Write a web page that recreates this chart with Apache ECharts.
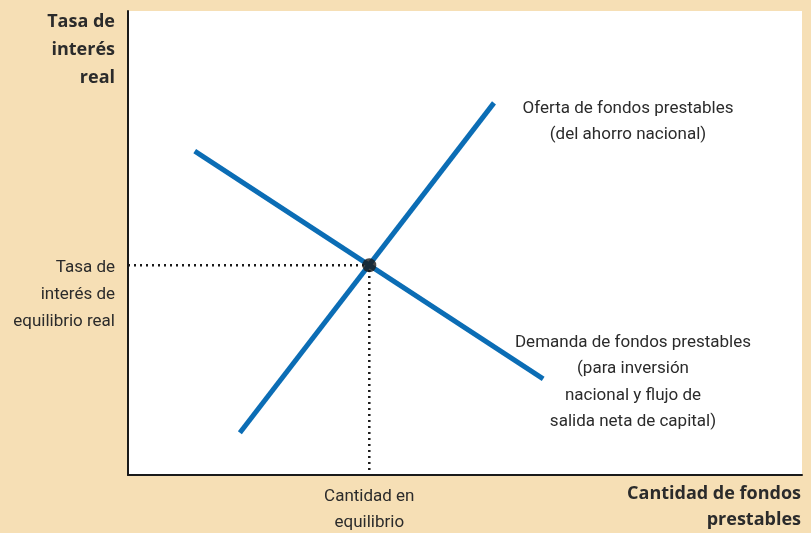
<!DOCTYPE html>
<html>
<head>
<meta charset="utf-8">
<script src="https://cdn.jsdelivr.net/npm/echarts@6/dist/echarts.min.js"></script>
<style>
  html, body { margin: 0; padding: 0; background: #f6dfb5; }
  #chart { width: 811px; height: 533px; }
</style>
</head>
<body>
<div id="chart"></div>
<script>
// curves (x: quantity 0-100, y: rate 0-100)
var supplyPts = [[16.6, 9.1], [54.3, 80.2]];
var demandPts = [[9.9, 69.8], [61.6, 20.7]];
var equilibrium = [35.8, 45.2];

var yTickLabel = "Tasa de\ninterés de\nequilibrio real";
var xTickLabel = "Cantidad en\nequilibrio";
var yName = ["Tasa de", "interés", "real"];
var xName = ["Cantidad de fondos", "prestables"];
var supplyLabel = ["Oferta de fondos prestables", "(del ahorro nacional)"];
var demandLabel = ["Demanda de fondos prestables", "(para inversión", "nacional y flujo de", "salida neta de capital)"];

var textFont = "Roboto, 'Open Sans', sans-serif";
var boldFont = "'Open Sans', sans-serif";
var ink = "#2b2b2b";
var blue = "#0b6db5";

var myChart = echarts.init(document.getElementById("chart"));
myChart.setOption({
	backgroundColor: "#f6dfb5",
	animation: false,
	grid: {
		left: 128, top: 11, right: 9, bottom: 58,
		outerBoundsMode: "none", containLabel: false,
		show: true, backgroundColor: "#ffffff", borderWidth: 0
	},
	xAxis: {
		type: "value", min: 0, max: 100,
		splitLine: { show: false },
		axisLine: { show: true, lineStyle: { color: "#1a1a1a", width: 2 } },
		axisTick: { show: false },
		axisLabel: {
			customValues: [equilibrium[0]],
			formatter: function () { return xTickLabel; },
			color: ink, fontFamily: textFont, fontSize: 17, lineHeight: 26, margin: 9
		}
	},
	yAxis: {
		type: "value", min: 0, max: 100,
		splitLine: { show: false },
		axisLine: { show: true, lineStyle: { color: "#1a1a1a", width: 2 } },
		axisTick: { show: false },
		axisLabel: {
			customValues: [equilibrium[1]],
			formatter: function () { return yTickLabel; },
			color: ink, fontFamily: textFont, fontSize: 17, lineHeight: 27, margin: 13,
			align: "right", verticalAlign: "top", padding: [-11, 0, 0, 0]
		}
	},
	graphic: [
		{ type: "text", x: 115, y: 8, style: { text: yName.join("\n"), fill: ink, font: "bold 18px " + boldFont, lineHeight: 28, align: "right", verticalAlign: "top" } },
		{ type: "text", x: 801, y: 481, style: { text: xName.join("\n"), fill: ink, font: "bold 18px " + boldFont, lineHeight: 26, align: "right", verticalAlign: "top" } },
		{ type: "text", x: 628, y: 96, style: { text: supplyLabel.join("\n"), fill: ink, font: "17px " + textFont, lineHeight: 26, align: "center", verticalAlign: "top" } },
		{ type: "text", x: 633, y: 329, style: { text: demandLabel.join("\n"), fill: ink, font: "17px " + textFont, lineHeight: 26.5, align: "center", verticalAlign: "top" } }
	],
	series: [
		{
			name: "guias", type: "line", symbol: "none", silent: true,
			data: [[0, equilibrium[1]], equilibrium, [equilibrium[0], 0]],
			lineStyle: { color: "#1a1a1a", width: 2.5, type: [2, 4] }
		},
		{
			name: "Oferta", type: "line", symbol: "none", data: supplyPts,
			lineStyle: { color: blue, width: 5 }
		},
		{
			name: "Demanda", type: "line", symbol: "none", data: demandPts,
			lineStyle: { color: blue, width: 5 }
		},
		{
			name: "Equilibrio", type: "scatter", data: [equilibrium], symbolSize: 14,
			itemStyle: { color: "#1a1a1a" }, z: 5
		}
	]
});
</script>
</body>
</html>
